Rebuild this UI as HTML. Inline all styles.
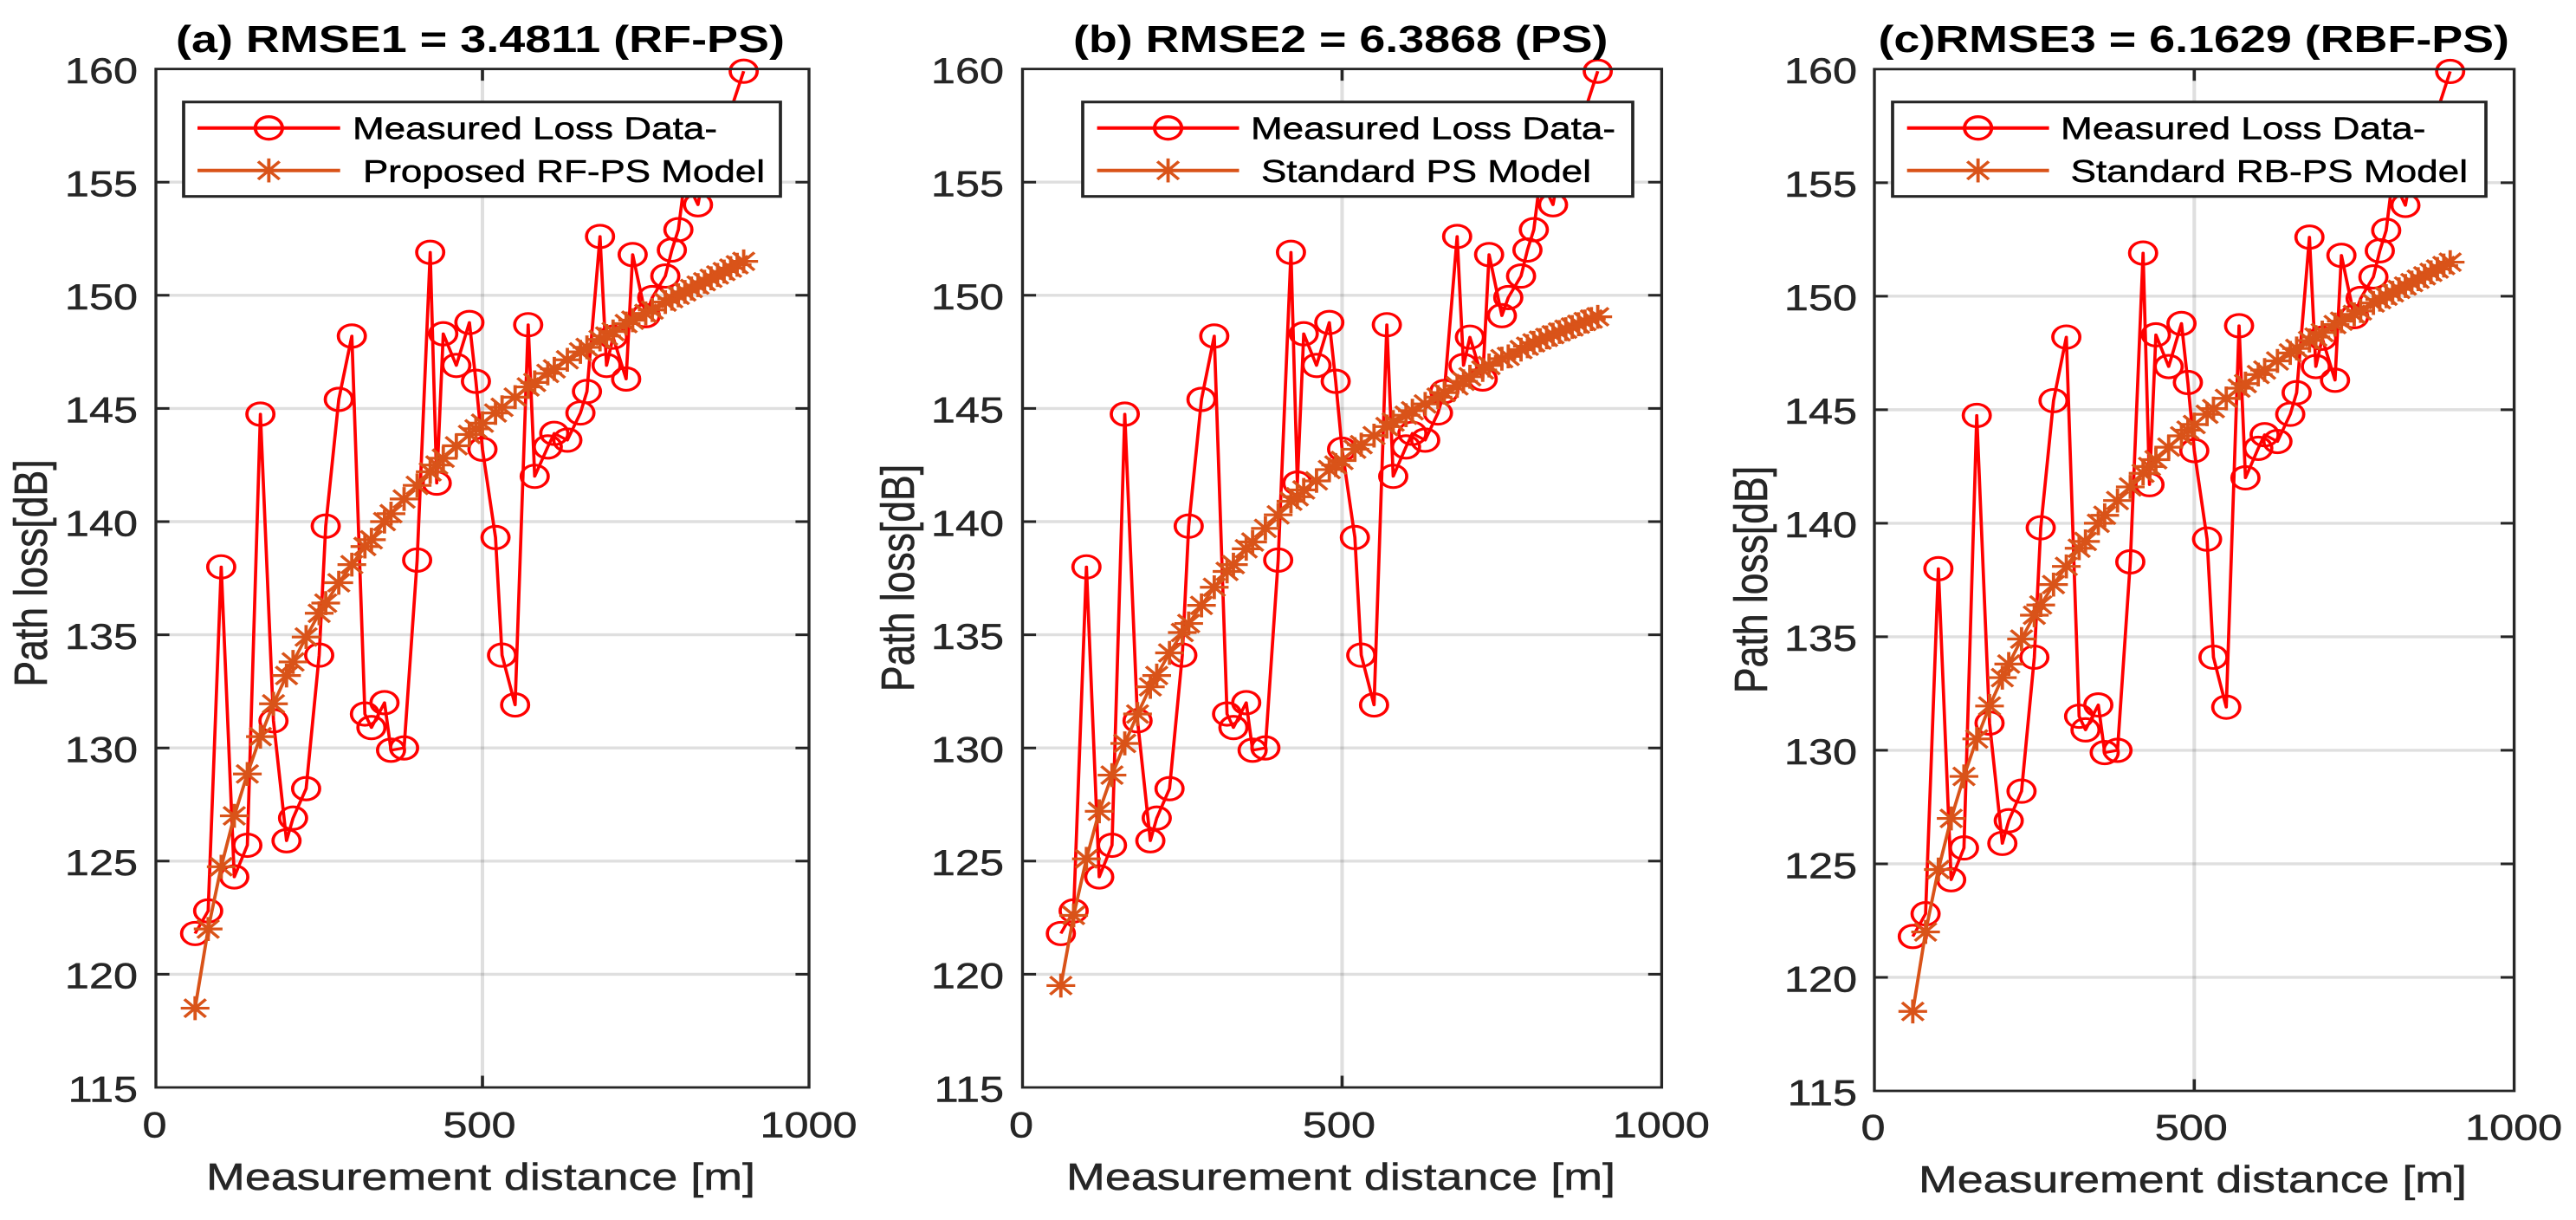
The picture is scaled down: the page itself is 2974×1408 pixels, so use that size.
<!DOCTYPE html>
<html lang="en">
<head>
<meta charset="utf-8">
<title>Path loss model comparison</title>
<style>
html,body{margin:0;padding:0;background:#fff;width:2974px;height:1408px;overflow:hidden}
svg{display:block}
text{font-family:"Liberation Sans",Arial,sans-serif}
</style>
</head>
<body>
<svg id="chart" xmlns="http://www.w3.org/2000/svg" width="2974" height="1408" viewBox="0 0 2974 1408">
<rect x="0" y="0" width="2974" height="1408" fill="#fff"/>
<g id="stage"></g>
</svg>
<script>
const measuredDistances = [60,80,100,120,140,160,180,200,210,230,250,260,280,300,320,330,350,360,380,400,420,430,440,460,480,490,500,520,530,550,570,580,600,610,630,650,660,680,690,700,720,730,750,760,780,790,800,810,830,840,870,900];
const measuredLoss = [121.8,122.8,138,124.3,125.7,144.75,131.2,125.9,126.9,128.2,134.1,139.8,145.4,148.2,131.5,130.9,132,129.9,130,138.3,151.9,141.7,148.3,146.9,148.8,146.2,143.2,139.3,134.1,131.9,148.7,142,143.3,143.9,143.6,144.8,145.75,152.6,146.9,148.15,146.3,151.8,149.1,149.9,150.85,152,152.9,155.2,154,155.6,157.3,159.9];
const modelDistances = [60,80,100,120,140,160,180,200,210,230,250,260,280,300,320,330,350,360,380,400,420,430,440,460,480,490,500,520,530,550,570,580,600,610,630,650,660,680,690,700,720,730,750,760,780,790,800,810,820,830,840,850,860,870,880,890,900];
const rfPsLoss = [118.5,122,124.75,127,128.85,130.5,131.95,133.2,133.8,134.9,135.95,136.4,137.3,138.1,138.9,139.2,140,140.35,141,141.6,142.2,142.5,142.8,143.35,143.85,144.1,144.35,144.8,145.05,145.5,145.95,146.15,146.55,146.75,147.15,147.5,147.7,148.05,148.2,148.4,148.75,148.9,149.2,149.35,149.7,149.85,150,150.15,150.3,150.45,150.6,150.75,150.9,151.05,151.2,151.35,151.5];
const psLoss = [119.5,122.6,125.1,127.2,128.8,130.2,131.5,132.7,133.2,134.2,135.1,135.5,136.3,137.1,137.8,138.1,138.8,139.1,139.7,140.3,140.9,141.1,141.4,141.8,142.3,142.5,142.7,143.2,143.4,143.8,144.2,144.4,144.7,144.9,145.2,145.5,145.7,146,146.2,146.4,146.7,146.9,147.2,147.3,147.6,147.75,147.9,148.02,148.14,148.26,148.38,148.5,148.6,148.72,148.84,148.95,149.05];
const rbfPsLoss = [118.5,122,124.75,127,128.85,130.5,131.95,133.2,133.8,134.9,135.95,136.4,137.3,138.1,138.9,139.2,140,140.35,141,141.6,142.2,142.5,142.8,143.35,143.85,144.1,144.35,144.8,145.05,145.5,145.95,146.15,146.55,146.75,147.15,147.5,147.7,148.05,148.2,148.4,148.75,148.9,149.2,149.35,149.7,149.85,150,150.15,150.3,150.45,150.6,150.75,150.9,151.05,151.2,151.35,151.5];
const yTickValues = [115,120,125,130,135,140,145,150,155,160];
const xTickValues = [0,500,1000];
const xTickNudge = [-1.5,-3.5,-0.5];
const X_MAX = 1000, Y_MIN = 115, Y_MAX = 160;
const SX = 1.2;
const RED = '#ff0000', ORANGE = '#D95319', INK = '#262626';
const NS = 'http://www.w3.org/2000/svg';

const panels = [
 {key:'a',left:180,right:934,top:79.6,bottom:1255,title:'(a) RMSE1 = 3.4811 (RF-PS)',titleL:203,titleR:906,model:rfPsLoss,
  legendL:212,legendR:901,lineL:228,lineR:392.7,textL:407,textR:828,text2L:419,text2R:883,model2:'Proposed RF-PS Model',
  yTickR:159,yLabelX:54,yLabelY:661.5,xLabelL:238,xLabelR:872,xTickBase:1312.5,xLabelBase:1373},
 {key:'b',left:1180.5,right:1918.4,top:79.6,bottom:1255,title:'(b) RMSE2 = 6.3868 (PS)',titleL:1239,titleR:1856.5,model:psLoss,
  legendL:1250,legendR:1885,lineL:1266.6,lineR:1430.5,textL:1444,textR:1865,text2L:1456,text2R:1837,model2:'Standard PS Model',
  yTickR:1159,yLabelX:1055,yLabelY:667,xLabelL:1231,xLabelR:1865,xTickBase:1312.5,xLabelBase:1373},
 {key:'c',left:2164,right:2902.6,top:79.8,bottom:1259,title:'(c)RMSE3 = 6.1629 (RBF-PS)',titleL:2168.5,titleR:2897,model:rbfPsLoss,
  legendL:2185,legendR:2870,lineL:2201.7,lineR:2365.6,textL:2379,textR:2800.5,text2L:2390.5,text2R:2849,model2:'Standard RB-PS Model',
  yTickR:2144,yLabelX:2040,yLabelY:669,xLabelL:2215,xLabelR:2848,xTickBase:1315.5,xLabelBase:1376}
];

function make(tag, attrs, parent){
  const el = document.createElementNS(NS, tag);
  for (const k in attrs) el.setAttribute(k, attrs[k]);
  parent.appendChild(el);
  return el;
}
function starPath(cx, cy){
  const a = 13.8, d = 10.3;
  return 'M'+(cx-a)+' '+cy+'H'+(cx+a)+'M'+cx+' '+(cy-a)+'V'+(cy+a)+
         'M'+(cx-d)+' '+(cy-d)+'L'+(cx+d)+' '+(cy+d)+'M'+(cx-d)+' '+(cy+d)+'L'+(cx+d)+' '+(cy-d);
}

const stage = document.getElementById('stage');
stage.setAttribute('transform', 'scale(' + SX + ',1)');

panels.forEach(function(p){
  const xScale = function(v){ return (p.left + (v / X_MAX) * (p.right - p.left)) / SX; };
  const yScale = function(v){ return p.bottom - ((v - Y_MIN) / (Y_MAX - Y_MIN)) * (p.bottom - p.top); };
  const L = xScale(0), R = xScale(X_MAX), T = yScale(Y_MAX), B = yScale(Y_MIN);

  const g = make('g', {}, stage);
  
  

  // grid
  const grid = make('g', {stroke:INK,'stroke-opacity':0.15,'stroke-width':3.4,fill:'none'}, g);
  
  
  yTickValues.forEach(function(v){
    if (v === Y_MIN || v === Y_MAX) return;
    const ln = make('line', {x1:L,x2:R,y1:yScale(v),y2:yScale(v)}, grid);
    
    
  });
  xTickValues.forEach(function(v){
    if (v === 0 || v === X_MAX) return;
    const ln = make('line', {x1:xScale(v),x2:xScale(v),y1:T,y2:B}, grid);
    
    
  });

  // ticks
  const ticks = make('g', {stroke:INK,'stroke-width':3,fill:'none'}, g);
  
  
  const tickW = 13, tickH = 13.5;
  yTickValues.forEach(function(v){
    if (v === Y_MIN || v === Y_MAX) return;
    const t = make('path', {d:'M'+L+' '+yScale(v)+'h'+tickW+'M'+R+' '+yScale(v)+'h'+(-tickW)}, ticks);
    
    
  });
  xTickValues.forEach(function(v){
    if (v === 0 || v === X_MAX) return;
    const t = make('path', {d:'M'+xScale(v)+' '+T+'v'+tickH+'M'+xScale(v)+' '+B+'v'+(-tickH)}, ticks);
    
    
  });

  // measured series
  const measured = make('g', {fill:'none',stroke:RED,'stroke-width':3.1}, g);
  
  
  const mLine = make('polyline', {'stroke-linejoin':'round',points:measuredDistances.map(function(x,i){return xScale(x)+','+yScale(measuredLoss[i]);}).join(' ')}, measured);
  
  
  measuredDistances.forEach(function(x,i){
    const c = make('circle', {cx:xScale(x),cy:yScale(measuredLoss[i]),r:13}, measured);
    
    
  });

  // model series
  const model = make('g', {fill:'none',stroke:ORANGE,'stroke-width':3.2}, g);
  
  
  const oLine = make('polyline', {'stroke-linejoin':'round',points:modelDistances.map(function(x,i){return xScale(x)+','+yScale(p.model[i]);}).join(' ')}, model);
  
  
  modelDistances.forEach(function(x,i){
    const s = make('path', {d:starPath(xScale(x),yScale(p.model[i]))}, model);
    
    
  });

  // axes box
  const box = make('rect', {x:L,y:T,width:R-L,height:B-T,fill:'none',stroke:INK,'stroke-width':2.8}, g);
  
  

  // tick labels
  yTickValues.forEach(function(v){
    const t = make('text', {x:p.yTickR/SX,y:yScale(v)+16.3,'text-anchor':'end','font-size':42,fill:INK,stroke:INK,'stroke-width':0.5}, g);
    t.textContent = String(v);
    
    
  });
  xTickValues.forEach(function(v,i){
    const t = make('text', {x:xScale(v)+xTickNudge[i]/SX,y:p.xTickBase,'text-anchor':'middle','font-size':42,fill:INK,stroke:INK,'stroke-width':0.5}, g);
    t.textContent = String(v);
    
    
  });

  // title
  const title = make('text', {x:p.titleL/SX,y:60,'font-size':43.5,'font-weight':'bold',fill:'#000',textLength:(p.titleR-p.titleL)/SX,lengthAdjust:'spacingAndGlyphs'}, g);
  title.textContent = p.title;
  
  

  // axis labels
  const xl = make('text', {x:p.xLabelL/SX,y:p.xLabelBase,'font-size':44,fill:INK,stroke:INK,'stroke-width':0.5,textLength:(p.xLabelR-p.xLabelL)/SX,lengthAdjust:'spacingAndGlyphs'}, g);
  xl.textContent = 'Measurement distance [m]';
  
  

  const yl = make('text', {transform:'translate('+(p.yLabelX/SX)+','+p.yLabelY+') rotate(-90)','text-anchor':'middle','font-size':44.5,fill:INK,stroke:INK,'stroke-width':0.5}, g);
  yl.textContent = 'Path loss[dB]';
  
  

  // legend
  const lg = make('g', {}, g);
  
  
  const lgBox = make('rect', {x:p.legendL/SX,y:117.7,width:(p.legendR-p.legendL)/SX,height:109,fill:'#fff',stroke:INK,'stroke-width':3.1}, lg);
  
  

  const e1 = make('g', {fill:'none',stroke:RED,'stroke-width':3.3}, lg);
  
  
  const lx1 = p.lineL/SX, lx2 = p.lineR/SX, lmid = (lx1+lx2)/2;
  const s1 = make('line', {x1:lx1,x2:lx2,y1:147.7,y2:147.7,'stroke-width':4}, e1);
  
  
  const s1m = make('circle', {cx:lmid,cy:147.7,r:13}, e1);
  
  
  const t1 = make('text', {x:p.textL/SX,y:160.7,'font-size':36,fill:'#000',stroke:'#000','stroke-width':0.5,textLength:(p.textR-p.textL)/SX,lengthAdjust:'spacingAndGlyphs'}, e1);
  t1.textContent = 'Measured Loss Data-';
  
  

  const e2 = make('g', {fill:'none',stroke:ORANGE,'stroke-width':3.2}, lg);
  
  
  const s2 = make('line', {x1:lx1,x2:lx2,y1:196.7,y2:196.7,'stroke-width':4}, e2);
  
  
  const s2m = make('path', {d:starPath(lmid,196.7)}, e2);
  
  
  const t2 = make('text', {x:p.text2L/SX,y:210,'font-size':36,fill:'#000',stroke:'#000','stroke-width':0.5,textLength:(p.text2R-p.text2L)/SX,lengthAdjust:'spacingAndGlyphs'}, e2);
  t2.textContent = p.model2;
  
  
});
</script>
</body>
</html>
